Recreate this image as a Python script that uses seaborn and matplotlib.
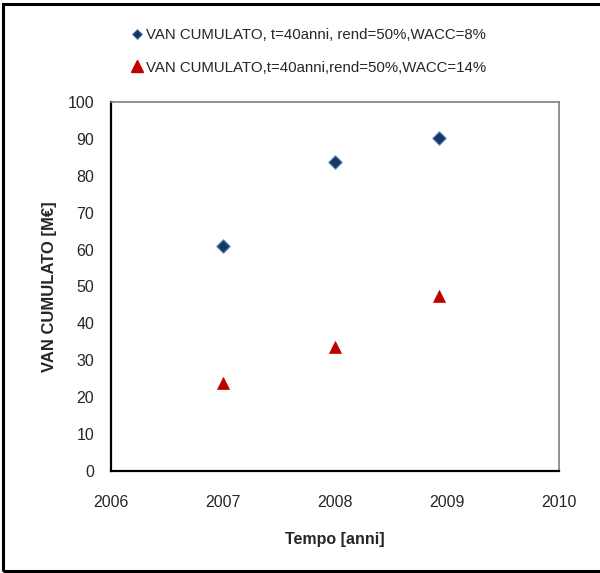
import matplotlib
matplotlib.use("Agg")
import pandas as pd
import seaborn as sns
from matplotlib import pyplot as plt
from matplotlib.lines import Line2D
from matplotlib.patches import Rectangle

# Data
years_8 = [2007.0, 2008.0, 2008.93]
van_8 = [61.1, 83.7, 90.3]
years_14 = [2007.0, 2008.0, 2008.93]
van_14 = [23.8, 33.6, 47.3]
label_8 = "VAN CUMULATO, t=40anni, rend=50%,WACC=8%"
label_14 = "VAN CUMULATO,t=40anni,rend=50%,WACC=14%"
x_ticks = [2006, 2007, 2008, 2009, 2010]
y_ticks = [0, 10, 20, 30, 40, 50, 60, 70, 80, 90, 100]

df = pd.DataFrame({
    "anno": years_8 + years_14,
    "van": van_8 + van_14,
    "serie": [label_8] * len(years_8) + [label_14] * len(years_14),
})

sns.set_style("white")
plt.rcParams["font.family"] = ["Liberation Sans Narrow", "Liberation Sans", "DejaVu Sans"]

blue_face, blue_edge = "#17375e", "#4f81bd"
red = "#c00000"

fig = plt.figure(figsize=(6.0, 5.73), dpi=100)
ax = fig.add_axes([0.185, 0.178, 0.7467, 0.644])

sns.scatterplot(data=df[df.serie == label_8], x="anno", y="van", marker="D",
                s=46, color=blue_face, edgecolor=blue_edge, linewidth=0.8,
                ax=ax, legend=False, zorder=3)
sns.scatterplot(data=df[df.serie == label_14], x="anno", y="van", marker="^",
                s=75, color=red, edgecolor=red, linewidth=0.5,
                ax=ax, legend=False, zorder=3)

ax.set_xlim(2006, 2010)
ax.set_ylim(0, 100)
ax.set_xticks(x_ticks)
ax.set_yticks(y_ticks)
ax.tick_params(axis="both", length=0, labelsize=11.5)
ax.tick_params(axis="x", pad=17)
ax.tick_params(axis="y", pad=12)
ax.set_xlabel("Tempo [anni]", fontsize=11.5, fontweight="bold", labelpad=16)
ax.set_ylabel("VAN CUMULATO [M€]", fontsize=12, fontweight="bold", labelpad=8)

for side in ["left", "bottom"]:
    ax.spines[side].set_color("black")
    ax.spines[side].set_linewidth(1.6)
for side in ["top", "right"]:
    ax.spines[side].set_color("#7f7f7f")
    ax.spines[side].set_linewidth(1.2)

handles = [
    Line2D([], [], linestyle="none", marker="D", markersize=5,
           markerfacecolor=blue_face, markeredgecolor=blue_edge, markeredgewidth=0.6),
    Line2D([], [], linestyle="none", marker="^", markersize=8,
           markerfacecolor=red, markeredgecolor=red),
]
fig.legend(handles, [label_8, label_14], loc="upper left",
           bbox_to_anchor=(0.195, 0.975), frameon=False, fontsize=10.8,
           handlelength=0.8, handletextpad=0.2, labelspacing=1.25)

# Border around the whole figure
fig.patches.append(Rectangle((0.005, 0.003), 1.2, 0.99, transform=fig.transFigure,
                             fill=False, edgecolor="black", linewidth=2.2))

fig.savefig("out.png", dpi=100)
